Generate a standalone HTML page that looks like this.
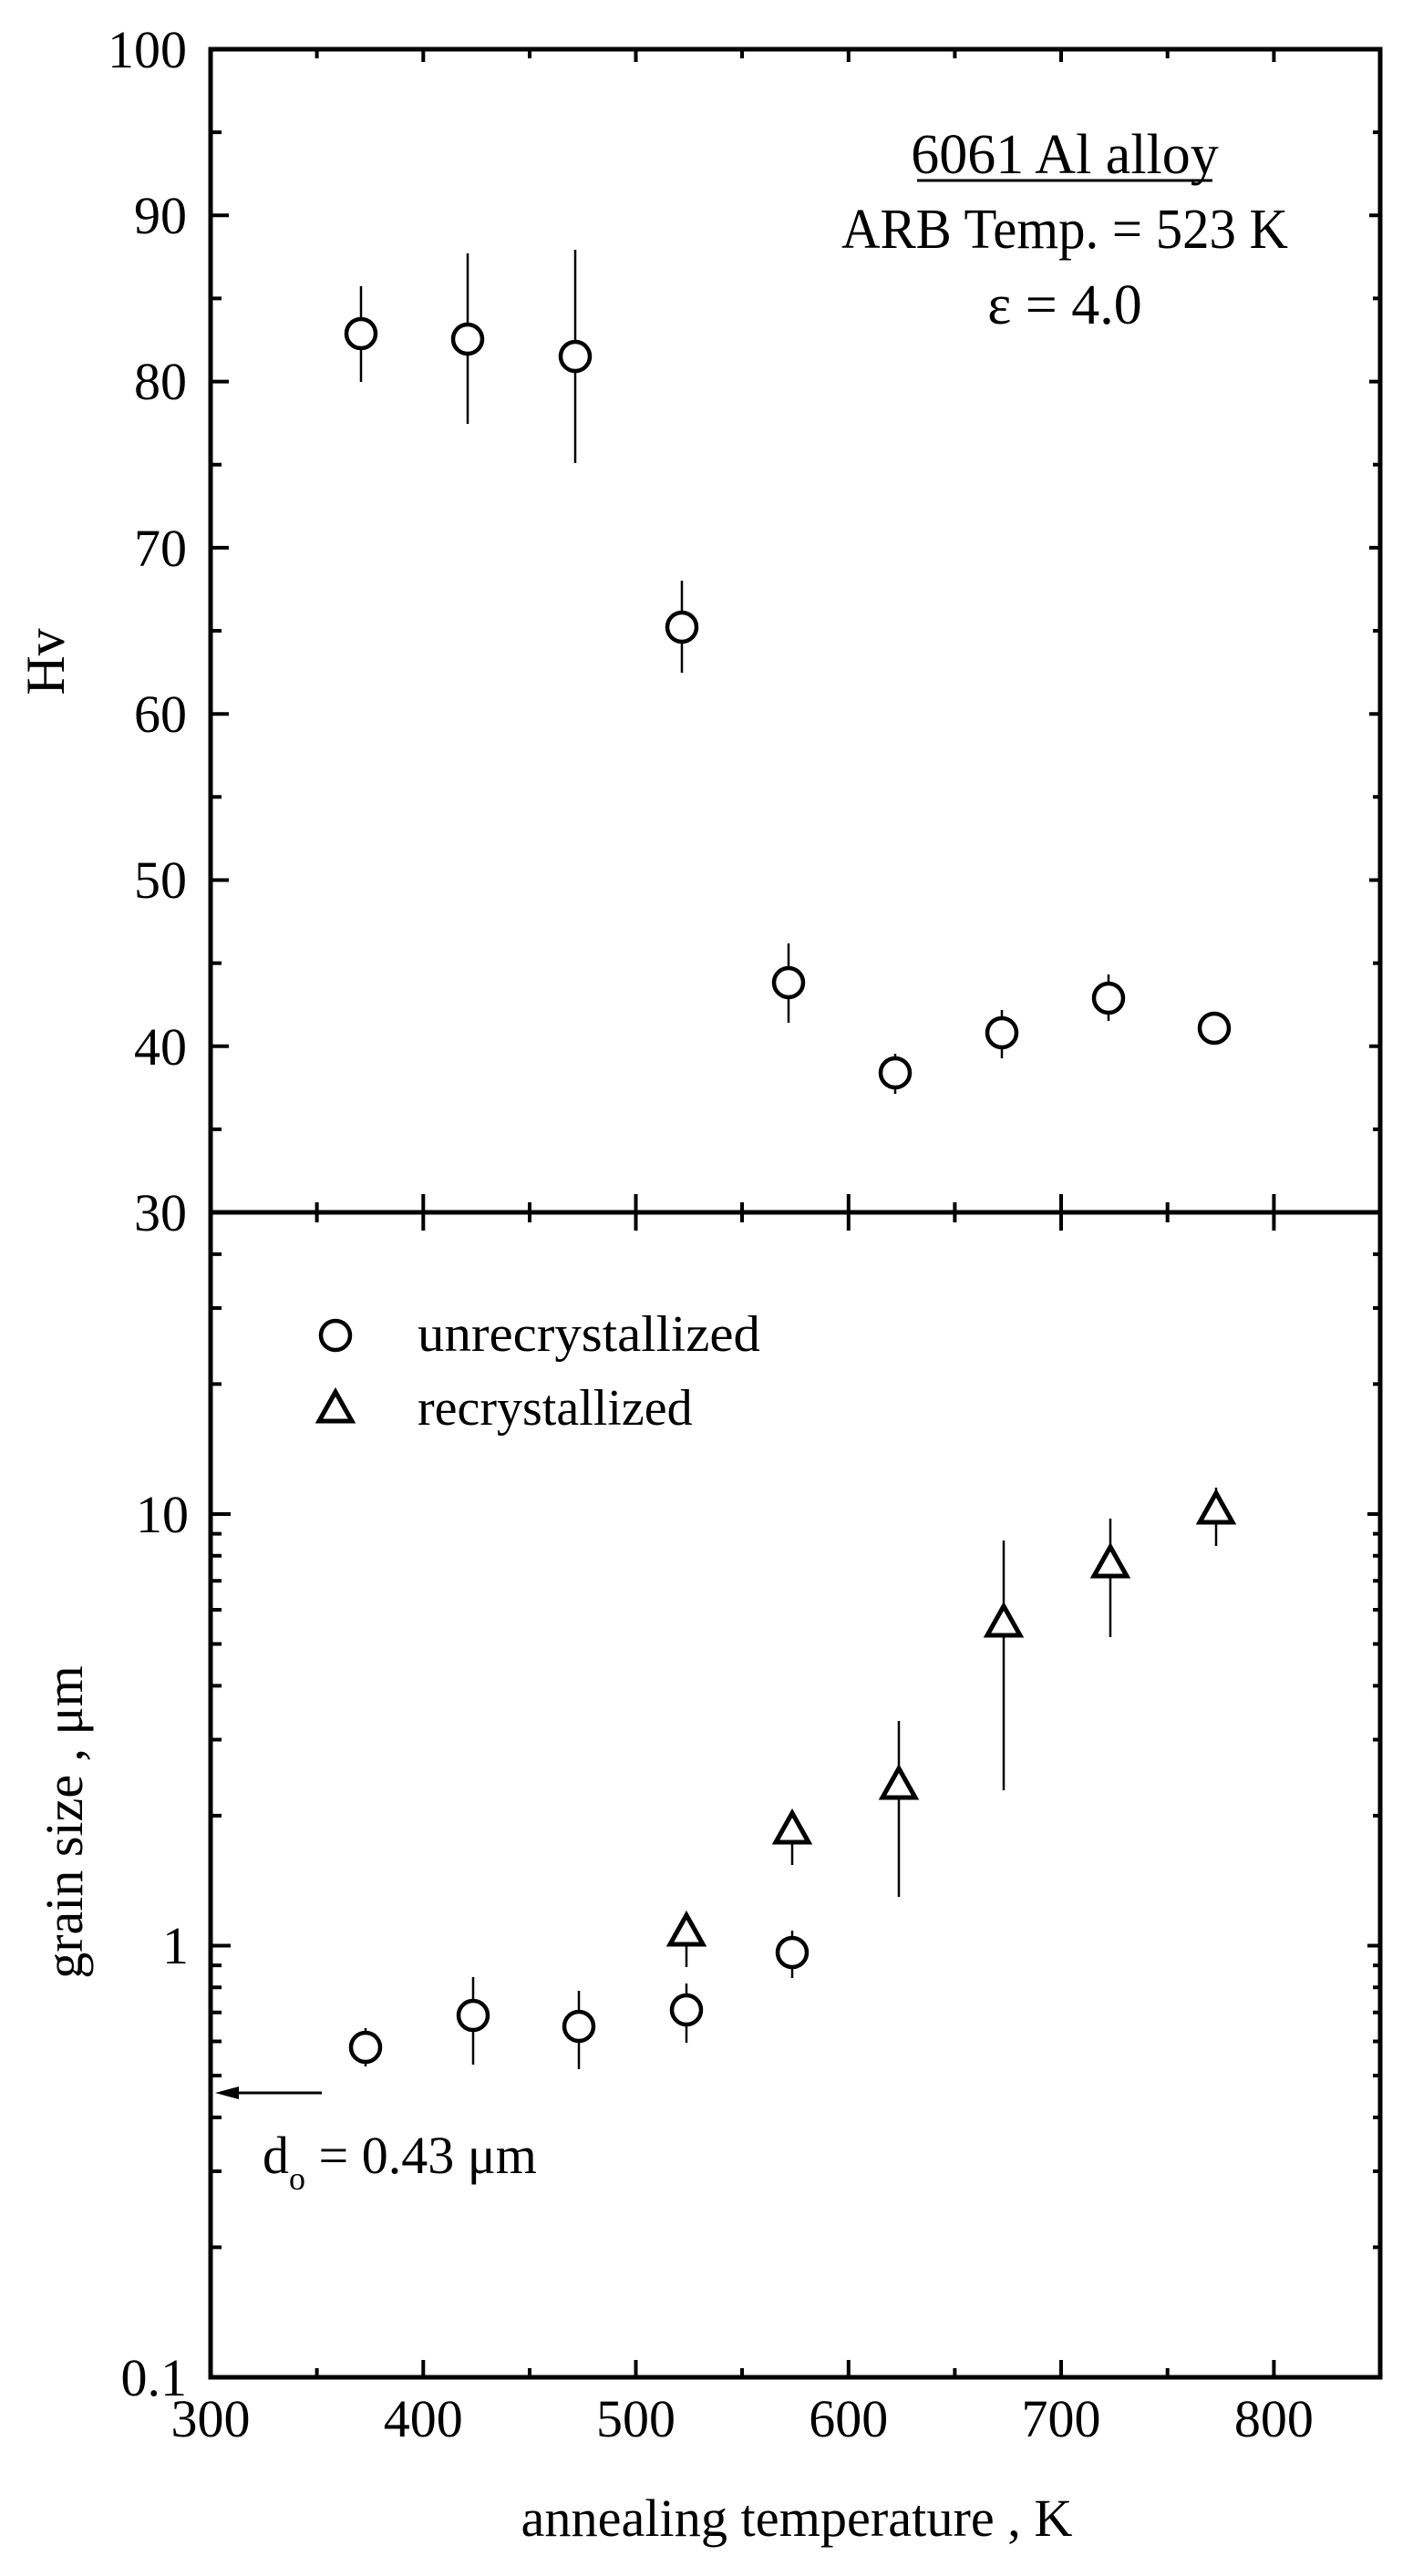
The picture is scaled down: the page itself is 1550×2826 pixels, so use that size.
<!DOCTYPE html>
<html><head><meta charset="utf-8"><style>
html,body{margin:0;padding:0;background:#fff;}
svg{display:block;}
text{font-family:"Liberation Serif","DejaVu Serif",serif;fill:#000;}
</style></head><body>
<svg width="1550" height="2826" viewBox="0 0 1550 2826" xmlns="http://www.w3.org/2000/svg">
<rect width="1550" height="2826" fill="#fff"/>
<g stroke="#000" stroke-width="5" fill="none">
<rect x="231" y="54" width="1283" height="2554"/>
<line x1="231" y1="1330" x2="1514" y2="1330"/>
</g>
<!-- top panel left/right y ticks -->
<g stroke="#000" stroke-width="4">
<path d="M231 145.1h12M231 236.3h20M231 327.4h12M231 418.6h20M231 509.7h12M231 600.9h20M231 692h12M231 783.2h20M231 874.3h12M231 965.5h20M231 1056.6h12M231 1147.8h20M231 1238.9h12"/>
<path d="M1514 145.1h-8M1514 236.3h-12M1514 327.4h-8M1514 418.6h-12M1514 509.7h-8M1514 600.9h-12M1514 692h-8M1514 783.2h-12M1514 874.3h-8M1514 965.5h-12M1514 1056.6h-8M1514 1147.8h-12M1514 1238.9h-8"/>
<!-- top x ticks -->
<path d="M347.6 54v10M464.3 54v14M581 54v10M697.5 54v14M814 54v10M930.8 54v14M1047.4 54v10M1164 54v14M1280.7 54v10M1397.4 54v14"/>
<!-- middle axis ticks -->
<path d="M347.6 1319v22M464.3 1310v40M581 1319v22M697.5 1310v40M814 1319v22M930.8 1310v40M1047.4 1319v22M1164 1310v40M1280.7 1319v22M1397.4 1310v40"/>
<!-- bottom x ticks -->
<path d="M347.6 2608v-10M464.3 2608v-19M581 2608v-10M697.5 2608v-19M814 2608v-10M930.8 2608v-19M1047.4 2608v-10M1164 2608v-19M1280.7 2608v-10M1397.4 2608v-19"/>
<!-- bottom log ticks left -->
<path d="M231 1375.9h12M231 1435h12M231 1518.4h12M231 1661h22M231 1682.6h12M231 1706.8h12M231 1734.3h12M231 1766h12M231 1803.5h12M231 1849.4h12M231 1908.5h12M231 1991.9h12M231 2134.5h22M231 2156.1h12M231 2180.3h12M231 2207.8h12M231 2239.5h12M231 2277h12M231 2322.9h12M231 2382h12M231 2465.4h12"/>
<path d="M1514 1375.9h-8M1514 1435h-8M1514 1518.4h-8M1514 1661h-14M1514 1682.6h-8M1514 1706.8h-8M1514 1734.3h-8M1514 1766h-8M1514 1803.5h-8M1514 1849.4h-8M1514 1908.5h-8M1514 1991.9h-8M1514 2134.5h-14M1514 2156.1h-8M1514 2180.3h-8M1514 2207.8h-8M1514 2239.5h-8M1514 2277h-8M1514 2322.9h-8M1514 2382h-8M1514 2465.4h-8"/>
</g>
<!-- tick labels -->
<g font-size="58" text-anchor="end">
<text x="205" y="74">100</text>
<text x="205" y="256">90</text>
<text x="205" y="438">80</text>
<text x="205" y="621">70</text>
<text x="205" y="803">60</text>
<text x="205" y="985">50</text>
<text x="205" y="1168">40</text>
<text x="205" y="1350">30</text>
<text x="207" y="1681">10</text>
<text x="207" y="2154">1</text>
<text x="205" y="2628">0.1</text>
</g>
<g font-size="58" text-anchor="middle">
<text x="231" y="2673">300</text>
<text x="464.3" y="2673">400</text>
<text x="697.5" y="2673">500</text>
<text x="930.8" y="2673">600</text>
<text x="1164" y="2673">700</text>
<text x="1397.4" y="2673">800</text>
<text x="874" y="2782" textLength="605" lengthAdjust="spacingAndGlyphs">annealing temperature , K</text>
</g>
<text font-size="60" transform="translate(70,726) rotate(-90)" text-anchor="middle">Hv</text>
<text font-size="58" transform="translate(90,1999) rotate(-90)" text-anchor="middle">grain size , μm</text>
<!-- annotation -->
<g font-size="62" text-anchor="middle">
<text x="1168" y="190">6061 Al alloy</text>
<line x1="1006" y1="198" x2="1330" y2="198" stroke="#000" stroke-width="3"/>
<text x="1168" y="272" textLength="490" lengthAdjust="spacingAndGlyphs">ARB Temp. = 523 K</text>
<text x="1168" y="355">ε = 4.0</text>
</g>
<!-- error bars -->
<g stroke="#000" stroke-width="2.5">
<path d="M396 314V419M513 278V465M631 274V508M748 637V738M865 1035V1122M982 1156V1200M1099 1108V1161M1216 1069V1120"/>
<path d="M401 2225V2267M519 2169V2265M635 2184V2270M753 2176V2241M869 2118V2170"/>
<path d="M753 2100V2158M869 1987V2046M986 1888V2081M1101 1690V1964M1218 1666V1796M1334 1632V1696"/>
</g>
<!-- circles -->
<g stroke="#000" stroke-width="4.5" fill="#fff">
<circle cx="396" cy="366" r="16"/>
<circle cx="513" cy="372" r="16"/>
<circle cx="631" cy="391" r="16"/>
<circle cx="748" cy="688" r="16"/>
<circle cx="865" cy="1078" r="16"/>
<circle cx="982" cy="1177" r="16"/>
<circle cx="1099" cy="1133" r="16"/>
<circle cx="1216" cy="1095" r="16"/>
<circle cx="1332" cy="1128" r="16"/>
<circle cx="401" cy="2246" r="16"/>
<circle cx="519" cy="2211" r="16"/>
<circle cx="635" cy="2223" r="16"/>
<circle cx="753" cy="2205" r="16"/>
<circle cx="869" cy="2142" r="16"/>
<circle cx="368" cy="1465" r="16"/>
</g>
<!-- triangles -->
<g stroke="#000" stroke-width="5" fill="#fff" stroke-linejoin="miter">
<path d="M753 2101L735 2133L771 2133Z"/>
<path d="M869 1989L851 2021L887 2021Z"/>
<path d="M986 1940L968 1972L1004 1972Z"/>
<path d="M1101 1762L1083 1794L1119 1794Z"/>
<path d="M1218 1697L1200 1729L1236 1729Z"/>
<path d="M1334 1638L1316 1670L1352 1670Z"/>
<path d="M368 1527L350 1559L386 1559Z"/>
</g>
<!-- legend -->
<g font-size="56">
<text x="458" y="1482" textLength="376" lengthAdjust="spacingAndGlyphs">unrecrystallized</text>
<text x="458" y="1563">recrystallized</text>
</g>
<!-- d0 arrow -->
<line x1="353" y1="2296" x2="250" y2="2296" stroke="#000" stroke-width="3"/>
<path d="M236 2296L262 2289L262 2303Z" fill="#000"/>
<text font-size="58" x="288" y="2384">d<tspan font-size="36" dy="18">o</tspan><tspan dy="-18"> = 0.43 μm</tspan></text>
</svg>
</body></html>
